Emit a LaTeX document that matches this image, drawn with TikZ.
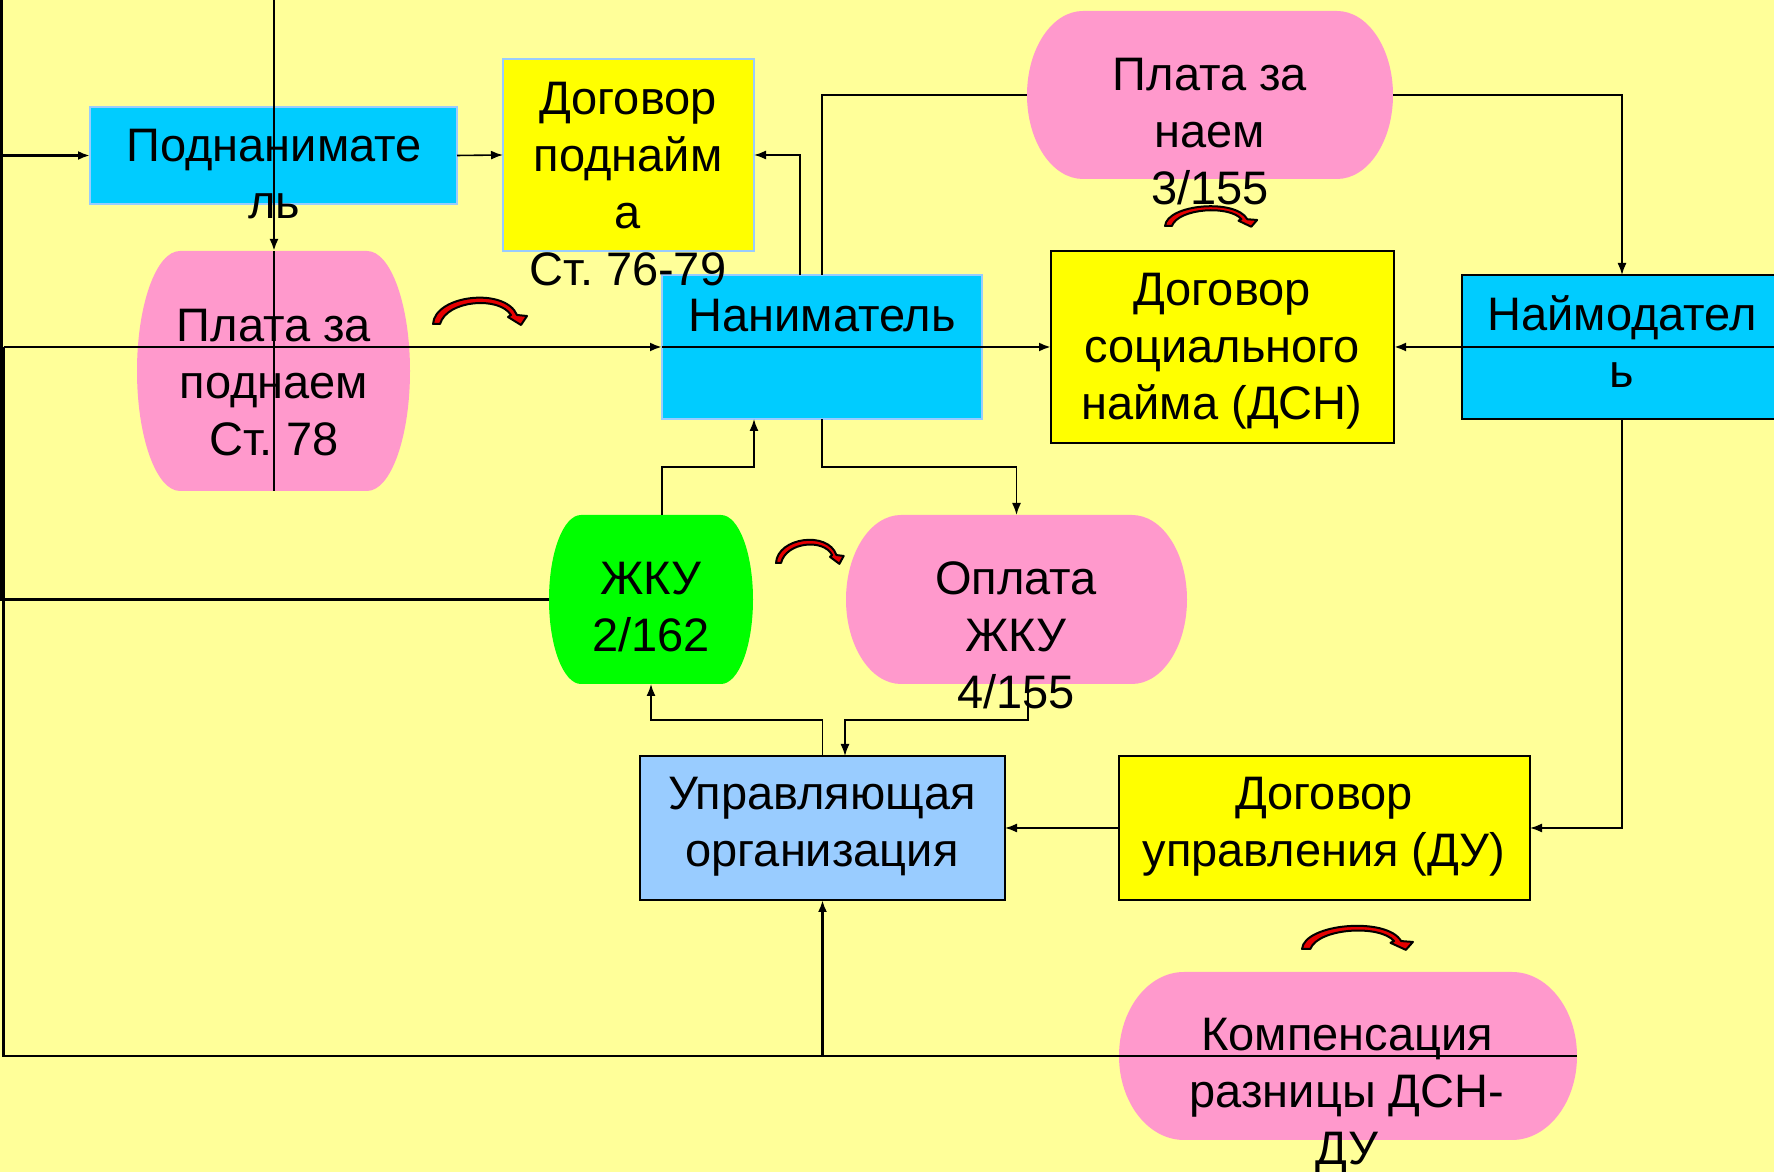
\documentclass[tikz,border=0pt]{standalone}
\usepackage{fontspec}
\setmainfont{Liberation Sans}
\usetikzlibrary{arrows.meta}
\frenchspacing
\definecolor{bg}{HTML}{FFFF99}
\definecolor{cyanb}{HTML}{00CCFF}
\definecolor{yel}{HTML}{FFFF00}
\definecolor{pinkb}{HTML}{FF99CC}
\definecolor{greenb}{HTML}{00FF00}
\definecolor{lblue}{HTML}{99CCFF}
\definecolor{carred}{HTML}{E60000}

\tikzset{
  box/.style={rectangle, inner sep=0pt, outer sep=0pt},
  lightbox/.style={box, draw=lblue, line width=0.6pt},
  darkbox/.style={box, draw=black, line width=0.9pt},
  txt/.style={font=\fontsize{23.5}{28.5}\selectfont, align=center, inner sep=0pt,
    execute at begin node=\strut, execute at end node=\strut},
  conn/.style={draw=black, line width=0.8pt},
  tconn/.style={draw=black, line width=1.2pt},
  arr/.style={-{Latex[length=6pt,width=4.5pt]}},
  carr/.pic={\filldraw[fill=carred, draw=black, line width=1pt, line join=round]
     (0,0) .. controls (2,29) and (72,37) .. (84,9) -- (94,8) -- (88,-1) -- (75,7)
     -- (78,9) .. controls (66,28) and (14,24) .. (7,0) -- cycle;}
}

\newcommand\termfill[4]{%
  \fill[#2] ([xshift=#3*0.5pt]#1.north west) -- ([xshift=-#3*0.5pt]#1.north east)
    arc[start angle=90, end angle=-90, x radius=#3*0.5pt, y radius=#4*0.5pt]
    -- ([xshift=#3*0.5pt]#1.south west)
    arc[start angle=270, end angle=90, x radius=#3*0.5pt, y radius=#4*0.5pt] -- cycle;}

\begin{document}
\begin{tikzpicture}[x=0.5pt,y=0.5pt]
\useasboundingbox (0,0) rectangle (1774,1172);
\fill[bg] (0,0) rectangle (1774,1172);
\clip (0,0) rectangle (1774,1172);

% terminator-shaped nodes
\node[box, minimum width=136.5pt, minimum height=120pt] (pzp) at (273.5,801) {};
\node[box, minimum width=183pt, minimum height=84pt] (pzn) at (1210,1077) {};
\node[box, minimum width=102pt, minimum height=84.5pt] (zku) at (651,572.5) {};
\node[box, minimum width=170.5pt, minimum height=84.5pt] (opl) at (1016.5,572.5) {};
\node[box, minimum width=229pt, minimum height=84pt] (komp) at (1348,116) {};
\termfill{pzp}{pinkb}{43}{120}
\termfill{pzn}{pinkb}{56}{84}
\termfill{zku}{greenb}{32}{84.5}
\termfill{opl}{pinkb}{55}{84.5}
\termfill{komp}{pinkb}{65}{84}

% rectangles
\node[lightbox, fill=cyanb, minimum width=183.5pt, minimum height=48.5pt] (pn) at (273.5,1016.5) {};
\node[lightbox, fill=yel, minimum width=125.5pt, minimum height=96pt] (dp) at (628.5,1017) {};
\node[lightbox, fill=cyanb, minimum width=160pt, minimum height=72pt] (nan) at (822,825) {};
\node[darkbox, fill=yel, minimum width=171.5pt, minimum height=96pt] (dsn) at (1222.5,825) {};
\node[darkbox, fill=cyanb, minimum width=160pt, minimum height=72pt] (nd) at (1622,825) {};
\node[darkbox, fill=lblue, minimum width=182.5pt, minimum height=72pt] (uo) at (822.5,344) {};
\node[darkbox, fill=yel, minimum width=205.5pt, minimum height=72pt] (du) at (1324.5,344) {};

% texts
\node[txt] (tpn) at (274,989.5) {Поднанимате\\ль};
\node[txt] (tdp) at (628,980) {Договор\\поднайм\\а\\Ст. 76-79};
\node[txt] (tpzp) at (274,781) {Плата за\\поднаем\\Ст. 78};
\node[txt] (tnan) at (822,852) {Наниматель};
\node[txt] (tpzn) at (1210,1032) {Плата за\\наем\\3/155};
\node[txt] (tdsn) at (1222,817) {Договор\\социального\\найма (ДСН)};
\node[txt] (tnd) at (1622,822) {Наймодател\\ь};
\node[txt] (tzku) at (651,557) {ЖКУ\\2/162};
\node[txt] (topl) at (1016,528) {Оплата\\ЖКУ\\4/155};
\node[txt] (tuo) at (822,342) {Управляющая\\организация};
\node[txt] (tdu) at (1324,342) {Договор\\управления (ДУ)};
\node[txt] (tkomp) at (1347,72) {Компенсация\\разницы ДСН-\\ДУ};

% connectors
\coordinate (top1) at (274,1172);
\coordinate (tl) at (1.5,1172);
\coordinate (bl) at (3.5,116);
\coordinate (re) at (1774,825);

\draw[tconn, arr] (top1) -- (top1 |- pzp.north);
\draw[tconn] (top1 |- pzp.north) -- (top1 |- pzp.south);
\draw[tconn] (zku.west) -| (tl);
\draw[tconn, arr] (tl |- pn.west) -- (pn.west);
\draw[conn, arr] (pn.east) -- (dp.west);
\draw[conn, arr] ([xshift=-11pt]nan.north) |- (dp.east);
\draw[conn] (pzn.west) -| (nan.north);
\draw[conn, arr] (pzn.east) -| (nd.north);
\draw[tconn] (bl |- nan.west) -- (bl) -- (komp.east);
\draw[tconn, arr] (bl |- nan.west) -- (nan.west);
\draw[tconn, arr] (nan.west) -- (dsn.west);
\draw[tconn, arr] (re) -- (dsn.east);
\draw[conn, arr] (nan.south) -- ++(0,-48) -| (opl.north);
\draw[conn, arr] ([xshift=5.5pt]zku.north) -- ++(0,48) -| ([xshift=-34pt]nan.south);
\draw[conn, arr] (uo.north) -- ++(0,36) -| (zku.south);
\draw[conn, arr] ([xshift=5.75pt]opl.south) -- ++(0,-36) -| ([xshift=11.25pt]uo.north);
\draw[conn, arr] (nd.south) |- (du.east);
\draw[conn, arr] (du.west) -- (uo.east);
\draw[tconn, arr] (uo.south |- komp.east) -- (uo.south);

% curved arrows
\pic at (433,848) {carr};
\pic[xscale=0.98, yscale=0.75] at (1165,946) {carr};
\pic[xscale=0.72, yscale=0.88] at (776,609) {carr};
\pic[xscale=1.18, yscale=0.88] at (1302,223) {carr};
\end{tikzpicture}
\end{document}
